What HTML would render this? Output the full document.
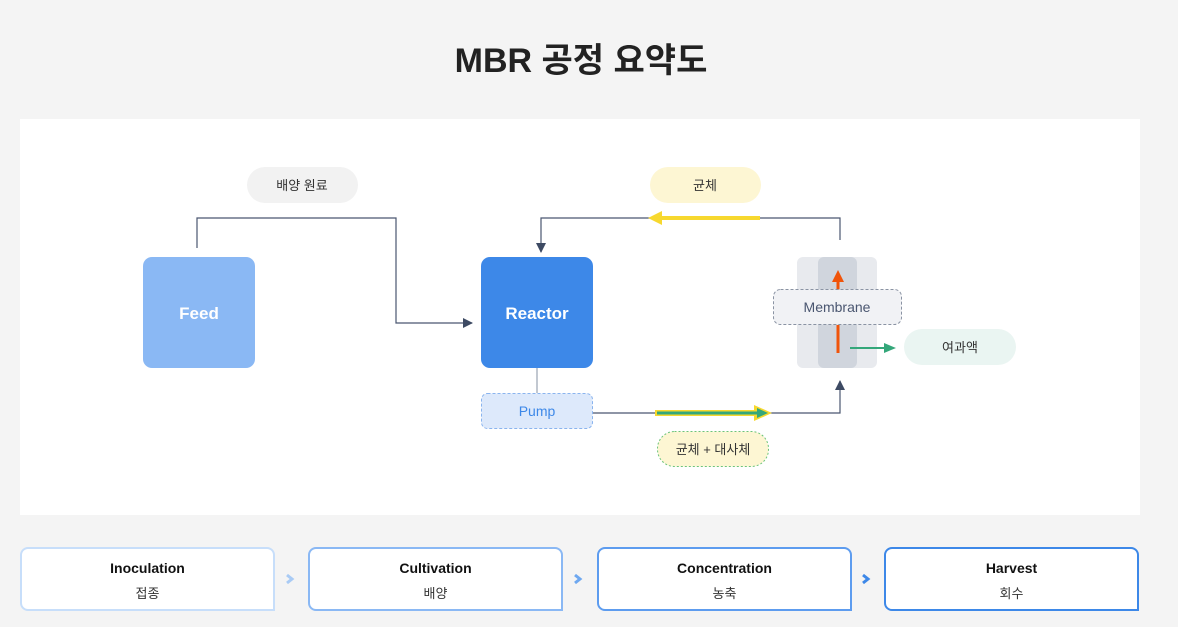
<!DOCTYPE html>
<html><head><meta charset="utf-8"><style>
body{margin:0;width:1178px;height:627px;background:#f4f4f4;font-family:"Liberation Sans","Noto Sans CJK KR",sans-serif;position:relative;overflow:hidden}
h1{position:absolute;top:33px;left:0;width:1162px;text-align:center;margin:0;font-size:34px;font-weight:bold;color:#222}
.panel{position:absolute;left:20px;top:119px;width:1120px;height:396px;background:#fff}
.step{position:absolute;top:547px;width:251px;height:60px;background:#fff;border:2px solid;border-radius:8px 8px 0 8px;text-align:center}
.step b{display:block;margin-top:11px;font-size:14px;color:#111}
.step span{display:block;margin-top:7px;font-size:13px;color:#333}
</style></head><body>
<h1>MBR 공정 요약도</h1>
<div class="panel"></div>
<svg width="1178" height="627" style="position:absolute;left:0;top:0" font-family="Liberation Sans, Noto Sans CJK KR, sans-serif">
<defs>
<marker id="a" markerWidth="10" markerHeight="10" refX="9" refY="5" orient="auto" markerUnits="userSpaceOnUse"><path d="M0,0L10,5L0,10z" fill="#3d4a63"/></marker>
</defs>
<rect x="247" y="167" width="111" height="36" rx="18" fill="#f2f2f2"/>
<text x="302" y="190" font-size="13" text-anchor="middle" fill="#333">배양 원료</text>
<rect x="650" y="167" width="111" height="36" rx="18" fill="#fdf6d3"/>
<text x="705" y="190" font-size="13" text-anchor="middle" fill="#333">균체</text>
<polyline points="197,248 197,218 396,218 396,323 472,323" fill="none" stroke="#4a5670" stroke-width="1.2" marker-end="url(#a)"/>
<polyline points="840,240 840,218 541,218 541,252" fill="none" stroke="#4a5670" stroke-width="1.2" marker-end="url(#a)"/>
<line x1="760" y1="218" x2="660" y2="218" stroke="#f7d82e" stroke-width="4"/>
<path d="M648,218L662,211L662,225z" fill="#f7d82e"/>
<rect x="143" y="257" width="112" height="111" rx="9" fill="#8ab8f4"/>
<text x="199" y="319" font-size="17" font-weight="bold" text-anchor="middle" fill="#fff">Feed</text>
<rect x="481" y="257" width="112" height="111" rx="9" fill="#3d88e8"/>
<text x="537" y="319" font-size="17" font-weight="bold" text-anchor="middle" fill="#fff">Reactor</text>
<line x1="537" y1="368" x2="537" y2="393" stroke="#9aa3b2" stroke-width="1.2"/>
<rect x="481.5" y="393.5" width="111" height="35" rx="6" fill="#dde9fb" stroke="#8ab4ee" stroke-dasharray="3,2"/>
<text x="537" y="416" font-size="14" text-anchor="middle" fill="#3d88e8">Pump</text>
<polyline points="593,413 840,413 840,381" fill="none" stroke="#4a5670" stroke-width="1.2" marker-end="url(#a)"/>
<line x1="655" y1="413" x2="758" y2="413" stroke="#f7d82e" stroke-width="6"/>
<path d="M754,405L772,413L754,421z" fill="#f7d82e"/>
<line x1="657" y1="413" x2="758" y2="413" stroke="#34a77a" stroke-width="3"/>
<path d="M757,408L768,413L757,418z" fill="#34a77a"/>
<rect x="657.5" y="431.5" width="111" height="35" rx="17" fill="#fdf6d3" stroke="#6cc47a" stroke-dasharray="2,2"/>
<text x="713" y="454" font-size="13" text-anchor="middle" fill="#333">균체 + 대사체</text>
<rect x="797" y="257" width="80" height="111" rx="6" fill="#e8eaee"/>
<rect x="818" y="257" width="39" height="111" rx="6" fill="#d0d5dd"/>
<line x1="838" y1="353" x2="838" y2="325" stroke="#f0540a" stroke-width="3"/>
<line x1="838" y1="290" x2="838" y2="280" stroke="#f0540a" stroke-width="3"/>
<path d="M832,282L838,270L844,282z" fill="#f0540a"/>
<rect x="773.5" y="289.5" width="128" height="35" rx="7" fill="#f1f2f5" stroke="#8a93a3" stroke-dasharray="3,2"/>
<text x="837" y="312" font-size="14" text-anchor="middle" fill="#4a5670">Membrane</text>
<line x1="850" y1="348" x2="886" y2="348" stroke="#34a77a" stroke-width="2"/>
<path d="M884,343L896,348L884,353z" fill="#34a77a"/>
<rect x="904" y="329" width="112" height="36" rx="18" fill="#eaf5f2"/>
<text x="960" y="352" font-size="13" text-anchor="middle" fill="#333">여과액</text>
<polyline points="287,575 292,579 287,583" fill="none" stroke="#a9cbf5" stroke-width="3"/>
<polyline points="575,575 580,579 575,583" fill="none" stroke="#6ea8f0" stroke-width="3"/>
<polyline points="863,575 868,579 863,583" fill="none" stroke="#3d88e8" stroke-width="3"/>
</svg>
<div class="step" style="left:20px;border-color:#c7defa"><b>Inoculation</b><span>접종</span></div>
<div class="step" style="left:308px;border-color:#8ab8f4"><b>Cultivation</b><span>배양</span></div>
<div class="step" style="left:597px;border-color:#5d9cef"><b>Concentration</b><span>농축</span></div>
<div class="step" style="left:884px;border-color:#3d88e8"><b>Harvest</b><span>회수</span></div>
</body></html>
